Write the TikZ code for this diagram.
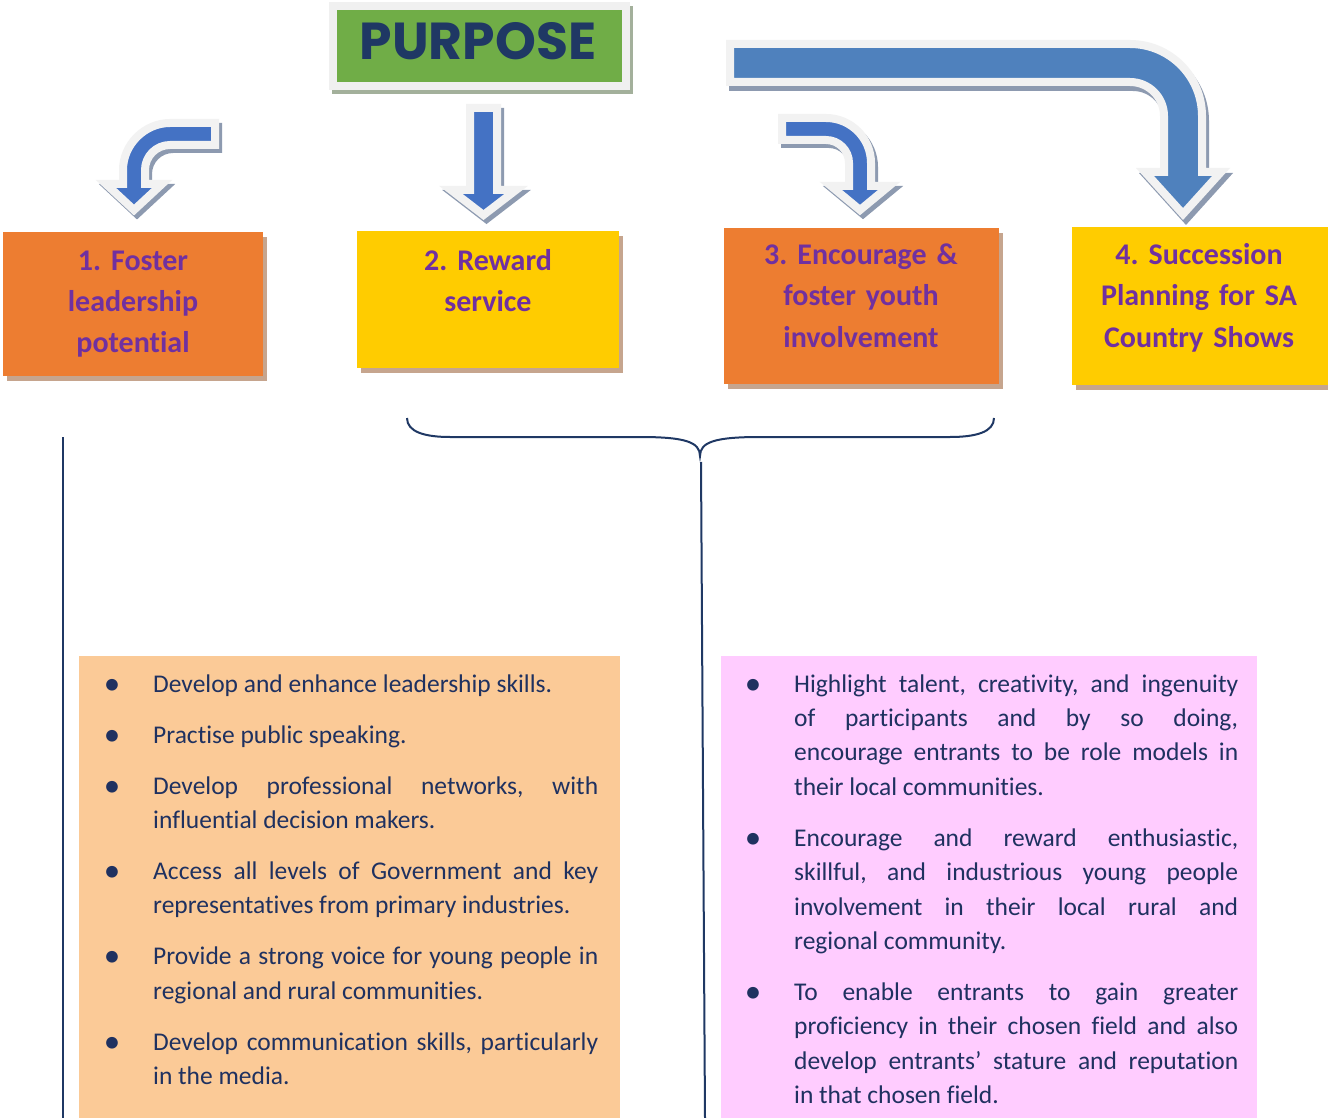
\documentclass[tikz,border=0pt]{standalone}
\usepackage{fontspec}
\setmainfont{Carlito}[Ligatures={NoCommon}]
\newfontfamily\poppinsfont{Poppins}
\usetikzlibrary{shadows}
\frenchspacing
\definecolor{txtnavy}{HTML}{1F3160}
\definecolor{linenavy}{HTML}{1F3864}
\definecolor{boxorange}{HTML}{ED7D31}
\definecolor{boxyellow}{HTML}{FFCC00}
\definecolor{titlepurple}{HTML}{7030A0}
\definecolor{peach}{HTML}{FBCA97}
\definecolor{pinkbg}{HTML}{FFCCFF}
\definecolor{arrowblue}{HTML}{4472C4}
\definecolor{bigblue}{HTML}{4F81BD}
\definecolor{arrowedge}{HTML}{F2F2F2}
\definecolor{arrowshade}{HTML}{8D9AB0}
\definecolor{shadowtan}{HTML}{C6A58E}
\definecolor{purposegreen}{HTML}{70AD47}
\definecolor{purposeframe}{HTML}{F0F0F0}
\definecolor{purposeshade}{HTML}{A3B09B}
\definecolor{purposetext}{HTML}{1F3864}
\newcommand\ArwOne{(215,123) -- (170,123) .. controls (144.6,123) and (123,144.6) .. (123,170) -- (123,184) -- (106,184) -- (134,210) -- (162,184) -- (145,184) -- (145,170) .. controls (145,156.2) and (156.2,145) .. (170,145) -- (215,145) -- cycle}
\newcommand\ArwTwo{(470,108) -- (497,108) -- (497,190) -- (516,190) -- (483.5,215) -- (451,190) -- (470,190) -- cycle}
\newcommand\ArwThree{(782,118) -- (826,118) .. controls (850.8,118) and (871,138.2) .. (871,163) -- (871,186) -- (889,186) -- (860,210) -- (831,186) -- (849,186) -- (849,163) .. controls (849,150.3) and (838.7,140) .. (826,140) -- (782,140) -- cycle}
\newcommand\ArwFour{(730,44) -- (1130,44) .. controls (1169.7,44) and (1202,76.3) .. (1202,116) -- (1202,172) -- (1221,172) -- (1183,214) -- (1145,172) -- (1164,172) -- (1164,116) .. controls (1164,97.2) and (1148.8,82) .. (1130,82) -- (730,82) -- cycle}
\newcommand\bul{\leavevmode\llap{\makebox[0pt][c]{\raisebox{-2pt}{\fontsize{33pt}{33pt}\selectfont\textbullet}}\hspace{41pt}}}
\begin{document}
\begin{tikzpicture}[x=1pt,y=-1pt,
  tbox/.style={anchor=north west,inner sep=0pt,outer sep=0pt,draw=none,
    general shadow={shadow xshift=4pt,shadow yshift=-5pt,fill=shadowtan}},
  listbox/.style={anchor=north west,inner sep=0pt,outer sep=0pt,draw=none},
  titletext/.style={anchor=base,inner sep=0pt,text width=270pt,align=center,
    text=titlepurple,font=\bfseries\fontsize{30pt}{41pt}\selectfont},
  bullettext/.style={anchor=base west,inner sep=0pt,text width=445pt,align=justify,
    text=txtnavy,font=\fontsize{25.5pt}{34.4pt}\selectfont},
  arrowshadow/.style={fill=arrowshade,draw=arrowshade,line width=8pt,line join=miter},
  arrowbody/.style={fill=arrowblue,draw=arrowedge,line width=8pt,line join=miter},
  conn/.style={draw=linenavy,line width=2pt}]
\useasboundingbox (0,0) rectangle (1328,1118);
\fill[white] (0,0) rectangle (1328,1118);

% PURPOSE
\node[anchor=north west,inner sep=0pt,minimum width=301pt,minimum height=88pt,fill=purposeframe,
  general shadow={shadow xshift=3pt,shadow yshift=-4pt,fill=purposeshade}] (pframe) at (329,2) {};
\node[anchor=north west,inner sep=0pt,minimum width=285pt,minimum height=72pt,fill=purposegreen] (pbox) at (337,10) {};
\node[anchor=base,inner sep=0pt,text=purposetext,font=\poppinsfont\bfseries\fontsize{52pt}{52pt}\selectfont] (purpose) at (478,60) {PURPOSE};

% block arrows
\path[arrowshadow,shift={(3,4)}] \ArwOne;
\path[arrowbody] \ArwOne;
\path[arrowshadow,shift={(3,4)}] \ArwTwo;
\path[arrowbody] \ArwTwo;
\path[arrowshadow,shift={(3,4)}] \ArwThree;
\path[arrowbody] \ArwThree;
\path[arrowshadow,shift={(3,5)}] \ArwFour;
\path[arrowbody,fill=bigblue] \ArwFour;

% goal boxes
\node[tbox,fill=boxorange,minimum width=260pt,minimum height=144pt] (b1) at (3,232) {};
\node[tbox,fill=boxyellow,minimum width=262pt,minimum height=137pt] (b2) at (357,231) {};
\node[tbox,fill=boxorange,minimum width=275pt,minimum height=156pt] (b3) at (724,228) {};
\node[tbox,fill=boxyellow,minimum width=256pt,minimum height=158pt] (b4) at (1072,227) {};
\node[titletext] (t1) at (133,270) {1. Foster\\leadership\\potential};
\node[titletext] (t2) at (488,270) {2. Reward\\service};
\node[titletext] (t3) at (861,265) {3. Encourage \&\\foster youth\\involvement};
\node[titletext] (t4) at (1199,265) {4. Succession\\Planning for SA\\Country Shows};

% brace and connector lines
\coordinate (braceL) at (407,418);
\coordinate (braceR) at (994,418);
\coordinate (braceTip) at (700,456);
\coordinate (midTop) at (701,462);
\coordinate (midBot) at (705,1118);
\coordinate (leftTop) at (63,437);
\coordinate (leftBot) at (63,1118);
\draw[conn] (braceL) .. controls (407,432) and (425,437) .. (450,437) -- (640,437)
  .. controls (685,437) and (700,442) .. (braceTip)
  .. controls (700,442) and (715,437) .. (760,437) -- (950,437)
  .. controls (976,437) and (994,432) .. (braceR);
\draw[conn] (midTop) -- (midBot);
\draw[conn] (leftTop) -- (leftBot);

% lower boxes
\node[listbox,fill=peach,minimum width=541pt,minimum height=462pt] (lbox) at (79,656) {};
\node[listbox,fill=pinkbg,minimum width=536pt,minimum height=462pt] (rbox) at (721,656) {};

\node[bullettext] (ltext) at (153,692) {\hyphenpenalty=10000\tolerance=10000\emergencystretch=20pt
\bul Develop and enhance leadership skills.\par\vspace{16.6pt}
\bul Practise public speaking.\par\vspace{16.6pt}
\bul Develop professional networks, with\linebreak influential decision makers.\par\vspace{16.6pt}
\bul Access all levels of Government and key\linebreak representatives from primary industries.\par\vspace{16.6pt}
\bul Provide a strong voice for young people in\linebreak regional and rural communities.\par\vspace{16.6pt}
\bul Develop communication skills, particularly\linebreak in the media.};

\node[bullettext,text width=444pt] (rtext) at (794,692) {\hyphenpenalty=10000\tolerance=10000\emergencystretch=20pt
\bul Highlight talent, creativity, and ingenuity\linebreak of participants and by so doing,\linebreak encourage entrants to be role models in\linebreak their local communities.\par\vspace{16.6pt}
\bul Encourage and reward enthusiastic,\linebreak skillful, and industrious young people\linebreak involvement in their local rural and\linebreak regional community.\par\vspace{16.6pt}
\bul To enable entrants to gain greater\linebreak proficiency in their chosen field and also\linebreak develop entrants’ stature and reputation\linebreak in that chosen field.};
\end{tikzpicture}
\end{document}
